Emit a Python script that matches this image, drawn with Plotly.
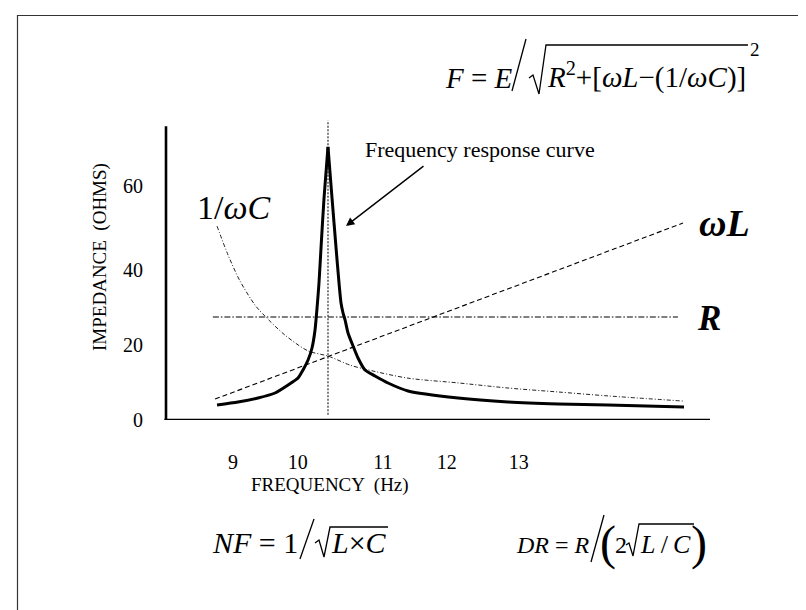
import plotly.graph_objects as go

# ---------------- data ----------------
response_x = [8.778, 9.069, 9.347, 9.583, 9.764, 9.903, 9.972, 10.042, 10.097, 10.139,
              10.167, 10.194, 10.222, 10.264, 10.319, 10.375, 10.431, 10.472, 10.500,
              10.528, 10.556, 10.597, 10.667, 10.736, 10.833, 10.972, 11.153, 11.431,
              12.125, 12.819, 13.514, 14.208, 15.264]
response_y = [3.80, 4.56, 5.57, 6.84, 8.87, 10.64, 12.67, 15.20, 18.24, 22.80,
              28.38, 34.71, 43.58, 56.24, 69.17, 56.24, 43.58, 34.71, 29.64,
              27.11, 25.34, 22.04, 18.75, 15.71, 12.67, 11.15, 9.37, 7.35,
              5.57, 4.56, 4.05, 3.80, 3.29]

omegaL_x = [8.75, 15.25]
omegaL_y = [5.3, 49.9]

R_x = [8.72, 15.18]
R_y = [26.1, 26.1]

invC_x = [8.778, 8.931, 9.097, 9.306, 9.444, 9.722, 10.042, 10.319, 10.625, 10.875,
          11.431, 12.125, 12.819, 13.514, 14.208, 15.25]
invC_y = [49.1, 41.8, 35.2, 29.1, 26.3, 21.5, 17.5, 16.2, 13.9, 12.7,
          10.6, 9.4, 8.1, 7.1, 6.1, 4.8]

resonance_x = [10.319, 10.319]
resonance_y = [1.3, 75.9]

x_tick_vals = [9, 9.9, 11.08, 11.97, 12.97]
x_tick_text = ["9", "10", "11", "12", "13"]
y_tick_vals = [0, 19, 38, 59.2]
y_tick_text = ["0", "20", "40", "60"]

X_RANGE = [8.069, 15.625]
Y_RANGE = [0, 76]
Y_AXIS_TOP = 74.4

# ---------------- layout helpers (pixel -> paper) ----------------
W, H = 806, 610
ML, MR, MT, MB = 158, 104, 112, 198
PW, PH = W - ML - MR, H - MT - MB


def px(x):
    return (x - ML) / PW


def py(y):
    return (H - MB - y) / PH


def path(points):
    return "M " + " L ".join(f"{px(a):.5f},{py(b):.5f}" for a, b in points)


SERIF = "Liberation Serif, Times New Roman, serif"
BLACK = "#000000"

fig = go.Figure()

fig.add_trace(go.Scatter(x=resonance_x, y=resonance_y, mode="lines",
                         line=dict(color="#555555", width=1.5, dash="2px,1.5px"),
                         hoverinfo="skip", showlegend=False))
fig.add_trace(go.Scatter(x=omegaL_x, y=omegaL_y, mode="lines",
                         line=dict(color=BLACK, width=1.1, dash="5px,3px"),
                         hoverinfo="skip", showlegend=False))
fig.add_trace(go.Scatter(x=R_x, y=R_y, mode="lines",
                         line=dict(color=BLACK, width=1.1, dash="6px,2px,1.5px,2px"),
                         hoverinfo="skip", showlegend=False))
fig.add_trace(go.Scatter(x=invC_x, y=invC_y, mode="lines",
                         line=dict(color="#222222", width=1, dash="4px,2px,1px,2px",
                                   shape="spline", smoothing=0.8),
                         hoverinfo="skip", showlegend=False))
# response curve: two smooth branches meeting in a sharp peak
pk = response_y.index(max(response_y))
for xs, ys in ((response_x[:pk + 1], response_y[:pk + 1]),
               (response_x[pk:], response_y[pk:])):
    fig.add_trace(go.Scatter(x=xs, y=ys, mode="lines",
                             line=dict(color=BLACK, width=3, shape="spline", smoothing=0.6),
                             hoverinfo="skip", showlegend=False))

LW = 1.3
shapes = [
    # slide frame (left and top edges visible)
    dict(type="rect", xref="paper", yref="paper", x0=px(9.5), x1=px(900),
         y0=py(700), y1=py(7.5), line=dict(color="#333333", width=1.2)),
    # axis lines
    dict(type="line", xref="paper", yref="y", x0=0, x1=0, y0=0, y1=Y_AXIS_TOP,
         line=dict(color=BLACK, width=2.6)),
    dict(type="line", xref="paper", yref="y", x0=-0.003, x1=1, y0=0, y1=0,
         line=dict(color=BLACK, width=2.6)),
    # top formula: big slash and radical
    dict(type="path", xref="paper", yref="paper", path=path([(504, 83), (518, 31)]),
         line=dict(color=BLACK, width=LW)),
    dict(type="path", xref="paper", yref="paper",
         path=path([(521, 70), (525, 67), (531, 86), (538, 37), (740, 37)]),
         line=dict(color=BLACK, width=LW)),
    # NF formula
    dict(type="path", xref="paper", yref="paper", path=path([(292, 551), (306, 511)]),
         line=dict(color=BLACK, width=LW)),
    dict(type="path", xref="paper", yref="paper",
         path=path([(307, 535), (311, 532), (316, 549), (322, 519), (380, 519)]),
         line=dict(color=BLACK, width=LW)),
    # DR formula
    dict(type="path", xref="paper", yref="paper", path=path([(583, 554), (596, 507)]),
         line=dict(color=BLACK, width=LW)),
    dict(type="path", xref="paper", yref="paper",
         path=path([(618, 537), (621, 535), (625, 548), (631, 516), (686, 516)]),
         line=dict(color=BLACK, width=LW)),
]

ann = []


def text(x, y, s, size, xanchor="center", yanchor="middle", angle=0):
    ann.append(dict(x=px(x), y=py(y), xref="paper", yref="paper", text=s,
                    showarrow=False, xanchor=xanchor, yanchor=yanchor,
                    borderpad=0, borderwidth=0,
                    textangle=angle, font=dict(family=SERIF, size=size, color=BLACK)))


def base_text(x, baseline, s, size, xanchor="left"):
    # place text so that its baseline sits at the given pixel row
    text(x, baseline + 0.216 * size, s, size, xanchor, "bottom")


# top formula  F = E / sqrt(R^2 + [wL - (1/wC)])^2
base_text(437, 80, "<i>F</i> = <i>E</i>", 29)
base_text(539, 80, "<i>R</i><sup>2</sup>+[<i>ωL</i>−(1/<i>ωC</i>)]", 29)
text(747, 42, "2", 19)

# labels
text(225, 199, "1/<i>ωC</i>", 34)
text(716, 215, "<b><i>ωL</i></b>", 38)
text(701, 310, "<b><i>R</i></b>", 35)
text(357, 141, "Frequency response curve", 22, "left")
text(322, 477, "FREQUENCY  (Hz)", 19)
text(92, 249, "IMPEDANCE  (OHMS)", 19, angle=-90)

# NF = 1 / sqrt(L x C)
base_text(290, 545, "<i>NF</i> = 1", 30, "right")
base_text(323, 545, "<i>L</i>×<i>C</i>", 30)

# DR = R / (2 sqrt(L/C))
base_text(508, 545, "<i>DR</i> = <i>R</i>", 24)
text(600, 535, "(", 48)
base_text(607, 545, "2", 24)
base_text(632, 545, "<i>L</i>\u2009/\u2009<i>C</i>", 26)
text(691, 535, ")", 48)

# arrow pointing at the response curve
ann.append(dict(x=px(338), y=py(218), xref="paper", yref="paper", text="",
                showarrow=True, ax=417 - 338, ay=157 - 218, axref="pixel", ayref="pixel",
                arrowhead=2, arrowsize=1.2, arrowwidth=1.4, arrowcolor=BLACK))

fig.update_layout(
    width=W, height=H,
    margin=dict(l=ML, r=MR, t=MT, b=MB),
    paper_bgcolor="white", plot_bgcolor="white",
    shapes=shapes, annotations=ann,
    font=dict(family=SERIF, size=18, color=BLACK),
    xaxis=dict(range=X_RANGE, showgrid=False, zeroline=False, showline=False,
               tickvals=x_tick_vals, ticktext=x_tick_text,
               ticks="outside", ticklen=24, tickcolor="rgba(0,0,0,0)",
               tickfont=dict(family=SERIF, size=20, color=BLACK)),
    yaxis=dict(range=Y_RANGE, showgrid=False, zeroline=False, showline=False,
               tickvals=y_tick_vals, ticktext=y_tick_text,
               ticks="outside", ticklen=18, tickcolor="rgba(0,0,0,0)",
               tickfont=dict(family=SERIF, size=20, color=BLACK)),
)

fig.write_html("out.html")
